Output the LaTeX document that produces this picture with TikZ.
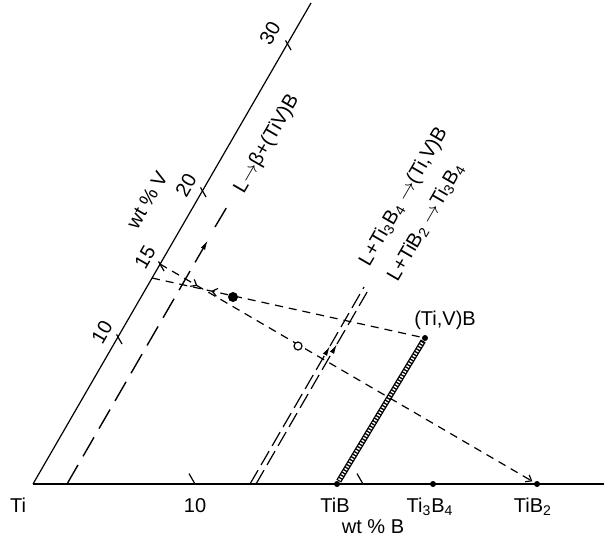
\documentclass[tikz,border=0pt]{standalone}
\usepackage{fontspec}
\setmainfont{Liberation Sans}
\usetikzlibrary{arrows.meta,decorations.markings}

\begin{document}
\begin{tikzpicture}[
    x=0.5pt, y=-0.5pt,
    lbl/.style={font=\fontsize{10}{12}\selectfont, inner sep=0pt},
    vlbl/.style={lbl, rotate=60},
    axisline/.style={line width=0.6pt},
    axtick/.style={line width=0.6pt},
    longdash/.style={line width=0.7pt, dash pattern=on 11pt off 5pt},
    twindash/.style={line width=0.6pt, dash pattern=on 8pt off 3pt},
    tiedash/.style={line width=0.6pt, dash pattern=on 4pt off 3pt},
    arr/.style={-{Latex[length=5pt,width=2.4pt]}},
    barbtip/.tip={Straight Barb[length=2.5pt,width=4pt]},
    hatchbar/.style={line width=2.8pt, postaction={draw=white, line width=1.5pt,
        dash pattern=on 0.7pt off 0.8pt, shorten <=0.6pt, shorten >=0.6pt}},
    dot/.style={circle, fill, inner sep=0pt, minimum size=3pt},
    bigdot/.style={circle, fill, inner sep=0pt, minimum size=5pt},
    ring/.style={circle, draw, fill=white, line width=0.6pt, inner sep=0pt, minimum size=4pt},
  ]
  \useasboundingbox (0,0) rectangle (604,538);
  \coordinate (Ti) at (33,484);
  \coordinate (Bend) at (604,484);
  \coordinate (Vend) at (311,3);
  \coordinate (V10) at (118,337);
  \coordinate (V14) at (152,278);
  \coordinate (V15) at (160,264);
  \coordinate (V20) at (202,190);
  \coordinate (V30) at (287,43);
  \coordinate (B10) at (195,484);
  \coordinate (B20) at (363,484);
  \node[dot] (TiB) at (337,484) {};
  \node[dot] (Ti3B4) at (433,484) {};
  \node[dot] (TiB2) at (537,484) {};
  \node[dot] (TiVB) at (425,338) {};

  \draw[axisline] (Ti) -- (Bend);
  \draw[axisline] (Ti) -- (Vend);
  \foreach \p in {B10,B20} \draw[axtick] (\p) -- ++(-6,-10.4);
  \foreach \p in {V10,V15,V20,V30} \draw[axtick] (\p) ++(-1.5,-2.6) -- ++(5.5,9.6);

  \coordinate (la0) at (67,484);
  \coordinate (la1) at (208,240);
  \coordinate (la2) at (215,227);
  \coordinate (la3) at (231,200);
  \draw[longdash, arr] (la0) -- (la1);
  \draw[longdash] (la2) -- (la3);
  \node[vlbl] (lbeta) at (267,144) {L$\rightarrow$β+(TiV)B};

  \coordinate (dl0) at (250,484);
  \coordinate (dl1) at (330,346);
  \coordinate (dl2) at (364,287);
  \coordinate (dr0) at (256,484);
  \coordinate (dr1) at (337,344);
  \coordinate (dr2) at (370,287);
  \draw[twindash, arr] (dl0) -- (dl1);
  \draw[twindash] (dl1) -- (dl2);
  \draw[twindash, arr] (dr0) -- (dr1);
  \draw[twindash] (dr1) -- (dr2);
  \node[vlbl] (rx1) at (404,197) {L+Ti\textsubscript{3}B\textsubscript{4} $\rightarrow$(Ti,V)B};
  \node[vlbl] (rx2) at (426,222) {L+TiB\textsubscript{2} $\rightarrow$Ti\textsubscript{3}B\textsubscript{4}};

  \draw[hatchbar] (TiB) -- (TiVB);
  \draw[tiedash, -barbtip, shorten >=1pt, postaction={decorate},
    decoration={markings, mark=at position 0.1 with {\arrow{barbtip}}}] (V15) -- (TiB2);
  \draw[tiedash, postaction={decorate},
    decoration={markings, mark=at position 0.22 with {\arrowreversed{barbtip}}}] (V14) -- (TiVB);
  \node[bigdot] (alloy) at (233,297) {};
  \node[ring] (liquid) at (298,346) {};

  \node[lbl] (tvlab) at (445,320) {(Ti,V)B};
  \node[lbl, anchor=base] (tilab) at (18,512) {Ti};
  \node[lbl, anchor=base] (b10lab) at (195,512) {10};
  \node[lbl, anchor=base] (tiblab) at (335,512) {TiB};
  \node[lbl, anchor=base] (ti3b4lab) at (430,512) {Ti\textsubscript{3}B\textsubscript{4}};
  \node[lbl, anchor=base] (tib2lab) at (533,512) {TiB\textsubscript{2}};
  \node[lbl, anchor=base] (wtb) at (373,533) {wt \% B};
  \node[vlbl] (v10lab) at (102,332) {10};
  \node[vlbl] (v15lab) at (145,257) {15};
  \node[vlbl] (v20lab) at (186,185) {20};
  \node[vlbl] (v30lab) at (270,33) {30};
  \node[vlbl] (wtv) at (147,200) {wt \% V};
\end{tikzpicture}
\end{document}
